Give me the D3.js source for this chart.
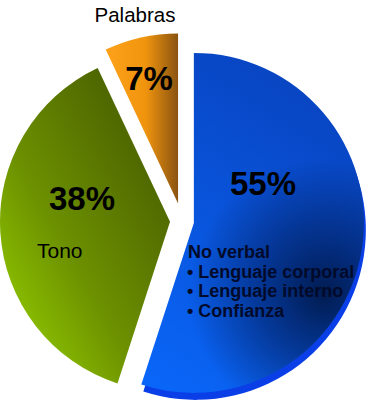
<!DOCTYPE html>
<html>
<head>
<meta charset="utf-8">
<script src="https://cdn.jsdelivr.net/npm/d3@7"></script>
<style>
  body { margin: 0; background: #fff; }
  svg { display: block; font-family: Arial, "Liberation Sans", sans-serif; }
</style>
</head>
<body>
<div id="chart"></div>
<script>
// Data
const categories = ['No verbal', 'Tono', 'Palabras'];
const values = [55, 38, 7];
const percentLabels = ['55%', '38%', '7%'];
const noVerbalItems = ['• Lenguaje corporal', '• Lenguaje interno', '• Confianza'];

// Dimensions
const width = 378;
const height = 400;
const radius = 170;
const cx = 182;
const cy = 221;
const explode = [12, 12, 18];

const svg = d3.select('#chart')
  .append('svg')
    .attr('width', width)
    .attr('height', height);

// Gradients (user space = local coords of each translated slice)
const defs = svg.append('defs');
const blueGrad = defs.append('linearGradient')
    .attr('id', 'grad-blue')
    .attr('gradientUnits', 'userSpaceOnUse')
    .attr('x1', -60).attr('y1', 150)
    .attr('x2', 110).attr('y2', -120);
blueGrad.append('stop').attr('offset', '0%').attr('stop-color', '#0a66f8');
blueGrad.append('stop').attr('offset', '100%').attr('stop-color', '#0846c4');

const blueShade = defs.append('radialGradient')
    .attr('id', 'shade-blue')
    .attr('gradientUnits', 'userSpaceOnUse')
    .attr('cx', 130).attr('cy', 70).attr('r', 135);
blueShade.append('stop').attr('offset', '0%').attr('stop-color', '#001540').attr('stop-opacity', 0.9);
blueShade.append('stop').attr('offset', '50%').attr('stop-color', '#001850').attr('stop-opacity', 0.5);
blueShade.append('stop').attr('offset', '100%').attr('stop-color', '#001850').attr('stop-opacity', 0);

const greenGrad = defs.append('linearGradient')
    .attr('id', 'grad-green')
    .attr('x1', '15%').attr('y1', '90%')
    .attr('x2', '85%').attr('y2', '15%');
greenGrad.append('stop').attr('offset', '0%').attr('stop-color', '#8ec400');
greenGrad.append('stop').attr('offset', '40%').attr('stop-color', '#6c9000');
greenGrad.append('stop').attr('offset', '100%').attr('stop-color', '#4a6000');

const orangeGrad = defs.append('linearGradient')
    .attr('id', 'grad-orange')
    .attr('x1', '0%').attr('y1', '0%')
    .attr('x2', '100%').attr('y2', '0%');
orangeGrad.append('stop').attr('offset', '0%').attr('stop-color', '#ffa21a');
orangeGrad.append('stop').attr('offset', '55%').attr('stop-color', '#f0940e');
orangeGrad.append('stop').attr('offset', '100%').attr('stop-color', '#8a5410');

const fills = ['url(#grad-blue)', 'url(#grad-green)', 'url(#grad-orange)'];

// Pie layout
const pie = d3.pie().sort(null).startAngle(0).endAngle(2 * Math.PI);
const arcs = pie(values);
const arc = d3.arc().innerRadius(0).outerRadius(radius);

const offset = (d, i) => {
  const mid = (d.startAngle + d.endAngle) / 2;
  return [cx + explode[i] * Math.sin(mid), cy - explode[i] * Math.cos(mid)];
};

// 3D rim under the blue slice
const [bx, by] = offset(arcs[0], 0);
svg.append('path')
    .attr('d', arc(arcs[0]))
    .attr('transform', `translate(${bx + 2},${by + 7})`)
    .attr('fill', '#0a3ee6');

// Slices
svg.append('g')
  .selectAll('path')
  .data(arcs)
  .join('path')
    .attr('d', arc)
    .attr('transform', (d, i) => `translate(${offset(d, i)})`)
    .attr('fill', (d, i) => fills[i]);

// dark shading on the blue face
svg.append('path')
    .attr('d', arc(arcs[0]))
    .attr('transform', `translate(${bx},${by})`)
    .attr('fill', 'url(#shade-blue)');

// Labels
const labels = svg.append('g').attr('fill', '#000');
labels.append('text')
    .attr('x', 135).attr('y', 22)
    .attr('text-anchor', 'middle')
    .attr('font-size', 20.5)
    .text(categories[2]);
labels.append('text')
    .attr('x', 149).attr('y', 90)
    .attr('text-anchor', 'middle')
    .attr('font-size', 33).attr('font-weight', 700)
    .text(percentLabels[2]);
labels.append('text')
    .attr('x', 263).attr('y', 195)
    .attr('text-anchor', 'middle')
    .attr('font-size', 33).attr('font-weight', 700)
    .text(percentLabels[0]);
labels.append('text')
    .attr('x', 82).attr('y', 210)
    .attr('text-anchor', 'middle')
    .attr('font-size', 33).attr('font-weight', 700)
    .text(percentLabels[1]);
labels.append('text')
    .attr('x', 37).attr('y', 258)
    .attr('font-size', 21)
    .text(categories[1]);

const noVerbal = svg.append('text')
    .attr('x', 188).attr('y', 258)
    .attr('font-size', 18).attr('font-weight', 700)
    .attr('fill', '#020a2a');
noVerbal.append('tspan').attr('x', 188).text(categories[0]);
noVerbal.selectAll('tspan.item')
  .data(noVerbalItems)
  .join('tspan')
    .attr('class', 'item')
    .attr('x', 187)
    .attr('dy', 19.5)
    .text(d => d);
</script>
</body>
</html>
